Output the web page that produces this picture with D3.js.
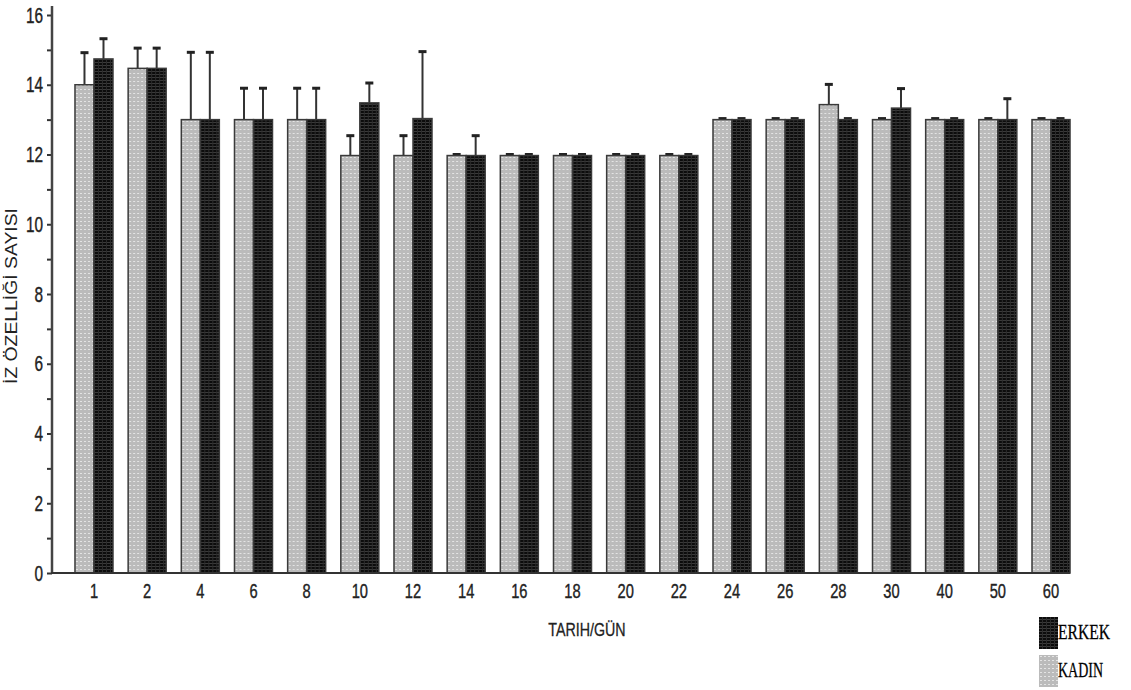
<!DOCTYPE html>
<html lang="tr">
<head>
<meta charset="UTF-8">
<title>İz Özelliği Sayısı</title>
<style>
    body { margin: 0; padding: 0; background: #ffffff; }
    svg { display: block; }
    .narrow { font-family: 'Liberation Sans', Arial, sans-serif; }
</style>
</head>
<body>
<svg id="chart" width="1131" height="690"></svg>
<script src="https://d3js.org/d3.v7.min.js"></script>
<script>
// gün (x categories)
var days = ['1', '2', '4', '6', '8', '10', '12', '14', '16', '18', '20', '22', '24', '26', '28', '30', '40', '50', '60'];
var series = ['KADIN', 'ERKEK'];

// means
var kadin = [14.0, 14.47, 13.0, 13.0, 13.0, 11.97, 11.97, 11.97, 11.97, 11.97, 11.97, 11.97, 13.0, 13.0, 13.43, 13.0, 13.0, 13.0, 13.0];
var erkek = [14.74, 14.47, 13.0, 13.0, 13.0, 13.48, 13.03, 11.97, 11.97, 11.97, 11.97, 11.97, 13.0, 13.0, 13.0, 13.33, 13.0, 13.0, 13.0];
// error (upper)
var kadinErr = [0.92, 0.58, 1.93, 0.9, 0.9, 0.57, 0.57, 0.03, 0.03, 0.03, 0.03, 0.03, 0.03, 0.03, 0.58, 0.03, 0.03, 0.03, 0.03];
var erkekErr = [0.58, 0.58, 1.93, 0.9, 0.9, 0.57, 1.92, 0.57, 0.03, 0.03, 0.03, 0.03, 0.03, 0.03, 0.03, 0.56, 0.03, 0.6, 0.03];

var yTicks = [0, 2, 4, 6, 8, 10, 12, 14, 16];
var yMinor = [1, 3, 5, 7, 9, 11, 13, 15];

var squeeze = 0.7; // tick labels are a condensed face in the original

var svg = d3.select('#chart');

// patterns for the bar fills
var defs = svg.append('defs');
var pl = defs.append('pattern').attr('id', 'pat-light')
    .attr('patternUnits', 'userSpaceOnUse').attr('width', 4).attr('height', 4);
pl.append('rect').attr('width', 4).attr('height', 4).attr('fill', '#bbbbbb');
pl.append('rect').attr('x', 1).attr('y', 1).attr('width', 2).attr('height', 1).attr('fill', '#e4e4e4');

var pd = defs.append('pattern').attr('id', 'pat-dark')
    .attr('patternUnits', 'userSpaceOnUse').attr('width', 4).attr('height', 3);
pd.append('rect').attr('width', 4).attr('height', 3).attr('fill', '#0c0c0c');
pd.append('rect').attr('x', 0).attr('y', 2).attr('width', 4).attr('height', 1).attr('fill', '#3a3a3a');
pd.append('rect').attr('x', 3).attr('y', 0).attr('width', 1).attr('height', 3).attr('fill', '#2c2c2c');

var fills = { KADIN: 'url(#pat-light)', ERKEK: 'url(#pat-dark)' };

// scales
var y = d3.scaleLinear().domain([0, 16]).range([573, 15]);
var x = d3.scaleBand().domain(days).range([67.4, 1077.6]).paddingInner(0.285).paddingOuter(0.1425);
var x1 = d3.scaleBand().domain(series).range([0, x.bandwidth()]);

var rows = days.map(function(d, i) {
    return {
        day: d,
        vals: [
            { s: 'KADIN', v: kadin[i], e: kadinErr[i] },
            { s: 'ERKEK', v: erkek[i], e: erkekErr[i] }
        ]
    };
});

var groups = svg.selectAll('.grp')
    .data(rows)
    .enter()
    .append('g')
    .attr('class', 'grp')
    .attr('transform', d => 'translate(' + x(d.day) + ',0)');

// error bars (drawn first, bars cover the bottom)
var eb = groups.selectAll('.err')
    .data(d => d.vals)
    .enter()
    .append('g')
    .attr('class', 'err');

eb.append('line')
    .attr('x1', d => x1(d.s) + x1.bandwidth() / 2)
    .attr('x2', d => x1(d.s) + x1.bandwidth() / 2)
    .attr('y1', d => y(d.v))
    .attr('y2', d => y(d.v + d.e))
    .attr('stroke', '#333')
    .attr('stroke-width', 2);

eb.append('line')
    .attr('x1', d => x1(d.s) + x1.bandwidth() / 2 - 4)
    .attr('x2', d => x1(d.s) + x1.bandwidth() / 2 + 4)
    .attr('y1', d => y(d.v + d.e))
    .attr('y2', d => y(d.v + d.e))
    .attr('stroke', '#222')
    .attr('stroke-width', 3);

groups.selectAll('rect.bar')
    .data(d => d.vals)
    .enter()
    .append('rect')
    .attr('class', 'bar')
    .attr('x', d => x1(d.s))
    .attr('y', d => y(d.v))
    .attr('width', x1.bandwidth())
    .attr('height', d => y(0) - y(d.v))
    .attr('fill', d => fills[d.s])
    .attr('stroke', '#3a3a3a')
    .attr('stroke-width', 1.5);

// y axis
var yAxis = svg.append('g')
    .attr('transform', 'translate(52,0)')
    .call(d3.axisLeft(y).tickValues(yTicks).tickSize(5).tickPadding(5));
yAxis.select('.domain').remove();
yAxis.selectAll('.tick line').attr('stroke', '#333').attr('stroke-width', 2);
yAxis.selectAll('.tick text')
    .attr('class', 'narrow')
    .style('font-size', '22px')
    .attr('fill', '#222')
    .attr('stroke', '#222')
    .attr('stroke-width', 0.4)
    .attr('x', -9 / squeeze)
    .attr('transform', 'scale(' + squeeze + ',1)');

var yAxisMinor = svg.append('g')
    .attr('transform', 'translate(52,0)')
    .call(d3.axisLeft(y).tickValues(yMinor).tickSize(5).tickFormat(''));
yAxisMinor.select('.domain').remove();
yAxisMinor.selectAll('.tick line').attr('stroke', '#333').attr('stroke-width', 2);

svg.append('line')
    .attr('x1', 52).attr('x2', 52)
    .attr('y1', 6).attr('y2', y(0) + 1)
    .attr('stroke', '#444').attr('stroke-width', 2.5);

// x axis
var xAxis = svg.append('g')
    .attr('transform', 'translate(0,' + y(0) + ')')
    .call(d3.axisBottom(x).tickSize(0).tickPadding(10));
xAxis.select('.domain').remove();
xAxis.selectAll('.tick text')
    .attr('class', 'narrow')
    .style('font-size', '21px')
    .attr('fill', '#222')
    .attr('stroke', '#222')
    .attr('stroke-width', 0.4)
    .attr('transform', 'scale(' + squeeze + ',1)');

svg.append('line')
    .attr('x1', 51).attr('x2', x(days[days.length - 1]) + x.bandwidth())
    .attr('y1', y(0)).attr('y2', y(0))
    .attr('stroke', '#333').attr('stroke-width', 2);

// axis titles
svg.append('text')
    .attr('class', 'narrow')
    .attr('transform', 'translate(587,636) scale(0.75,1)')
    .attr('text-anchor', 'middle')
    .style('font-size', '19px')
    .attr('fill', '#222')
    .attr('stroke', '#222')
    .attr('stroke-width', 0.3)
    .text('TARIH/GÜN');

svg.append('text')
    .attr('transform', 'translate(17,296) rotate(-90)')
    .attr('text-anchor', 'middle')
    .style('font-family', "'Liberation Sans', Arial, sans-serif")
    .style('font-size', '16px')
    .attr('textLength', 176)
    .attr('lengthAdjust', 'spacingAndGlyphs')
    .attr('fill', '#222')
    .text('İZ ÖZELLİĞİ SAYISI');

// legend (ERKEK on top)
var legend = svg.selectAll('.legend')
    .data(series.slice().reverse())
    .enter()
    .append('g')
    .attr('class', 'legend')
    .attr('transform', (d, i) => 'translate(1039,' + (617 + i * 38) + ')');

legend.append('rect')
    .attr('width', 19)
    .attr('height', 32)
    .attr('fill', d => fills[d]);

legend.append('text')
    .attr('x', 19)
    .attr('y', 22)
    .style('font-family', "'Liberation Serif', 'Times New Roman', serif")
    .style('font-size', '22px')
    .attr('textLength', d => d === 'ERKEK' ? 52 : 45)
    .attr('lengthAdjust', 'spacingAndGlyphs')
    .attr('fill', '#000')
    .attr('stroke', '#000')
    .attr('stroke-width', 0.3)
    .text(d => d);
</script>
</body>
</html>
